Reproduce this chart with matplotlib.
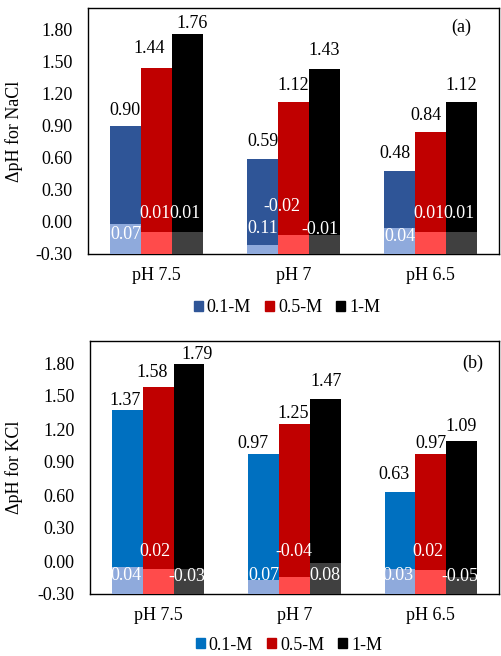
import numpy as np
import matplotlib
matplotlib.use("Agg")
import matplotlib.pyplot as plt
from matplotlib.patches import Patch

plt.rcParams['font.family'] = ['Liberation Serif', 'DejaVu Serif']
plt.rcParams['font.size'] = 13

categories = ["pH 7.5", "pH 7", "pH 6.5"]
series = ["0.1-M", "0.5-M", "1-M"]

# final pH change, one list per concentration
nacl_dph = [[0.90, 0.59, 0.48], [1.44, 1.12, 0.84], [1.76, 1.43, 1.12]]
kcl_dph = [[1.37, 0.97, 0.63], [1.58, 1.25, 0.97], [1.79, 1.47, 1.09]]

# lower (light) bars and the small shift values written on them
nacl_low = [[-0.02, -0.22, -0.06], [-0.09, -0.12, -0.09], [-0.09, -0.12, -0.09]]
nacl_shift = [["0.07", "0.11", "0.04"], ["0.01", "-0.02", "0.01"], ["0.01", "-0.01", "0.01"]]
kcl_low = [[-0.055, -0.177, -0.07], [-0.076, -0.146, -0.085], [-0.076, -0.021, -0.146]]
kcl_shift = [["0.04", "0.07", "0.03"], ["0.02", "-0.04", "0.02"], ["-0.03", "0.08", "-0.05"]]

# label placement: value labels (dx, dy in px from bar top), shift labels (y in data units)
nacl_lab_off = [[(-1, 15), (0, 17), (-5, 17)], [(-7, 19), (0, 17), (-5, 17)], [(5, 10), (0, 18), (0, 17)]]
kcl_lab_off = [[(-2, 10), (-11, 11), (-6, 17)], [(-6, 15), (-1, 10), (0, 11)], [(8, 10), (1, 18), (0, 15)]]
nacl_shift_y = [[-0.12, -0.06, -0.14], [0.075, 0.143, 0.075], [0.075, -0.075, 0.075]]
nacl_shift_dx = [[0, 0, 0], [-1, -12, -1], [-2, -4, -2]]
kcl_shift_y = [[-0.128, -0.128, -0.128], [0.084, 0.084, 0.084], [-0.145, -0.128, -0.145]]
kcl_shift_dx = [[-2, 0, -2], [-3, -1, -3], [-2, 0, -2]]

yticks = [-0.30, 0.00, 0.30, 0.60, 0.90, 1.20, 1.50, 1.80]
ymin, ymax = -0.30, 2.00

W, H = 502, 656
fig = plt.figure(figsize=(W / 100, H / 100), dpi=100)


def panel(rect, dph, low, shift, lab_off, shift_y, shift_dx, dark, light, ylabel, tag, tag_xy,
          ylab_x, leg_xy):
    l, t, r, b = rect
    ax = fig.add_axes([l / W, 1 - b / H, (r - l) / W, (b - t) / H])
    x = np.arange(len(categories))
    w = 0.225
    for i in range(len(series)):
        xs = x + (i - 1) * w
        vals = np.array(dph[i])
        ax.bar(xs, vals - ymin, bottom=ymin, width=w, color=dark[i], zorder=2)
        ax.bar(xs, np.array(low[i]) - ymin, bottom=ymin, width=w, color=light[i], zorder=3)
        for j in range(len(categories)):
            dx, dy = lab_off[i][j]
            ax.annotate(f"{vals[j]:.2f}", (xs[j], vals[j]), xytext=(dx * 0.72, dy * 0.72),
                        textcoords="offset points", ha="center", va="center", zorder=5)
            ax.annotate(shift[i][j], (xs[j], shift_y[i][j]), xytext=(shift_dx[i][j] * 0.72, 0),
                        textcoords="offset points", ha="center", va="center",
                        color="white", zorder=5)
    ax.set_xlim(-0.5, 2.5)
    ax.set_ylim(ymin, ymax)
    ax.set_yticks(yticks)
    ax.set_yticklabels([f"{v:.2f}" for v in yticks])
    ax.set_xticks(x)
    ax.set_xticklabels(categories)
    ax.tick_params(axis="both", length=0, labelsize=13)
    ax.tick_params(axis="y", pad=11)
    ax.tick_params(axis="x", pad=9)
    for s in ax.spines.values():
        s.set_color("black")
        s.set_linewidth(1.0)
    ax.text(tag_xy[0], tag_xy[1], tag, transform=ax.transAxes, ha="center", va="center")
    fig.text(ylab_x / W, 1 - (t + b) / 2 / H, ylabel, rotation=90, ha="center", va="center")
    handles = [Patch(color=c) for c in dark]
    fig.legend(handles, series, loc="center", bbox_to_anchor=(leg_xy[0] / W, 1 - leg_xy[1] / H),
               ncol=3, frameon=False, handlelength=0.5, handleheight=0.5,
               handletextpad=0.2, columnspacing=0.8, borderaxespad=0)
    return ax


panel((88, 8, 499, 254), nacl_dph, nacl_low, nacl_shift, nacl_lab_off, nacl_shift_y,
      nacl_shift_dx, ["#2F5597", "#C00000", "#000000"], ["#8FAADC", "#FF4B4B", "#404040"],
      "ΔpH for NaCl", "(a)", (0.909, 0.923), 14.5, (287, 308))
panel((90, 341, 499, 594), kcl_dph, kcl_low, kcl_shift, kcl_lab_off, kcl_shift_y,
      kcl_shift_dx, ["#0070C0", "#C00000", "#000000"], ["#8FAADC", "#FF4B4B", "#404040"],
      "ΔpH for KCl", "(b)", (0.936, 0.913), 14.5, (289, 645))

fig.savefig("out.png", dpi=100)
